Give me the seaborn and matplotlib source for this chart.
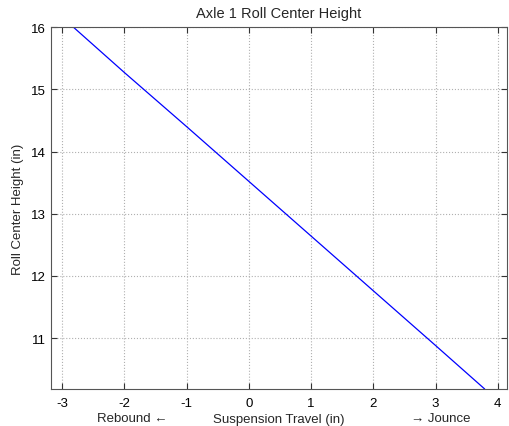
import pandas as pd
import matplotlib
matplotlib.use('Agg')
import matplotlib.pyplot as plt
import seaborn as sns

# Values
travel = [-2.82, -2.0, -1.0, 0.0, 1.0, 2.0, 3.0, 3.79]
rc_height = [16.0, 15.27, 14.40, 13.52, 12.64, 11.76, 10.88, 10.18]
x_ticks = [-3, -2, -1, 0, 1, 2, 3, 4]
y_ticks = [11, 12, 13, 14, 15, 16]

df = pd.DataFrame({'travel': travel, 'rc': rc_height})

sns.set_style('ticks')
plt.rcParams['font.family'] = ['Liberation Sans', 'DejaVu Sans']

fig = plt.figure(figsize=(5.09, 4.27), dpi=100)
ax = fig.add_axes([0.1002, 0.0867, 0.896, 0.8473])

sns.lineplot(data=df, x='travel', y='rc', color='#0000ff', linewidth=0.9, ax=ax)

ax.set_xlim(-3.18, 4.15)
ax.set_ylim(10.18, 16)
ax.set_xticks(x_ticks)
ax.set_yticks(y_ticks)
ax.set_xticklabels([str(t) for t in x_ticks])
ax.set_yticklabels([str(t) for t in y_ticks])
ax.tick_params(direction='in', length=4, labelsize=9.5, colors='#333333',
               labelcolor='black', top=True, right=True)
ax.tick_params(axis='x', pad=6)
ax.grid(True, linestyle=':', color='#b0b0b0', linewidth=0.8)
for s in ax.spines.values():
    s.set_visible(True)
    s.set_color('#555555')
    s.set_linewidth(0.8)

ax.set_title('Axle 1 Roll Center Height', fontsize=10.5, pad=7)
ax.set_xlabel('Suspension Travel (in)', fontsize=9.5, labelpad=3)
ax.set_ylabel('Roll Center Height (in)', fontsize=9.5, labelpad=5)
ax.text(-1.87, -0.081, 'Rebound \u2190', transform=ax.get_xaxis_transform(),
        ha='center', va='center', fontsize=9.5)
ax.text(3.08, -0.081, '\u2192 Jounce', transform=ax.get_xaxis_transform(),
        ha='center', va='center', fontsize=9.5)

fig.savefig('out.png', dpi=100)
